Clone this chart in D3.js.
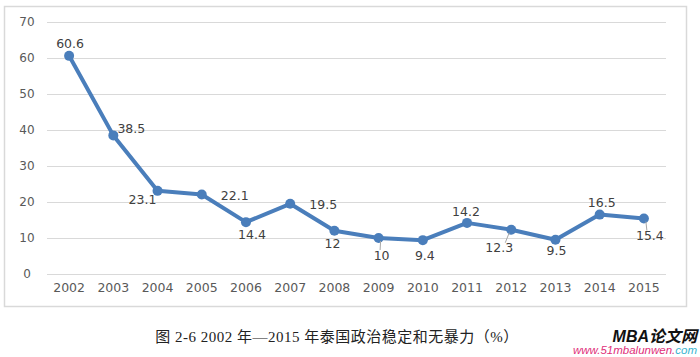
<!DOCTYPE html>
<html><head><meta charset="utf-8">
<script src="https://cdn.jsdelivr.net/npm/d3@7"></script>
<style>body{margin:0;background:#fff;}svg{display:block;}</style>
</head><body>
<svg id="c" width="700" height="357"></svg>
<script>
const years = ["2002","2003","2004","2005","2006","2007","2008","2009","2010","2011","2012","2013","2014","2015"];
const values = [60.6,38.5,23.1,22.1,14.4,19.5,12,10,9.4,14.2,12.3,9.5,16.5,15.4];
const yTicks = [0,10,20,30,40,50,60,70];
const caption = "图 2-6 2002 年—2015 年泰国政治稳定和无暴力（%）";

const svg = d3.select("#c");
svg.append("rect").attr("x",4.5).attr("y",6.5).attr("width",682).attr("height",300)
  .attr("fill","#fff").attr("stroke","#d9d9d9").attr("stroke-width",1.5);

const x = d3.scaleBand().domain(years).range([47,666]);
const y = d3.scaleLinear().domain([0,70]).range([274,22]);

svg.append("g").selectAll("line").data(yTicks).join("line")
  .attr("x1",47).attr("x2",666).attr("y1",d=>Math.round(y(d))+0.5).attr("y2",d=>Math.round(y(d))+0.5)
  .attr("stroke","#d9d9d9").attr("stroke-width",1);

const font = "DejaVu Sans, Verdana, sans-serif";
const yAxis = d3.axisLeft(y).tickValues(yTicks).tickSize(0).tickPadding(0);
const ya = svg.append("g").attr("transform","translate(27,0)").call(yAxis);
ya.select(".domain").remove();
ya.selectAll("text").attr("font-family",font).attr("font-size",12).attr("fill","#595959").attr("text-anchor","middle");

const xAxis = d3.axisBottom(x).tickSize(0).tickPadding(0);
const xa = svg.append("g").attr("transform","translate(0,283)").call(xAxis);
xa.select(".domain").remove();
xa.selectAll("text").attr("font-family",font).attr("font-size",12.5).attr("fill","#595959");

const cx = (d,i)=>x(years[i])+x.bandwidth()/2;
const line = d3.line().x((d,i)=>cx(d,i)).y(d=>y(d));
svg.append("path").datum(values).attr("d",line).attr("fill","none")
  .attr("stroke","#4a7ebb").attr("stroke-width",4).attr("stroke-linejoin","round");

svg.selectAll("circle.m").data(values).join("circle")
  .attr("cx",(d,i)=>cx(d,i)).attr("cy",d=>y(d)).attr("r",5).attr("fill","#4a7ebb");

// label offsets (text center relative to point)
const custom = [[1,-11],[18,-6],[-15,10],[33,2],[6,13],[33,2],[-2,14],[3,18],[2,16],[-1,-10],[-12,19],[1,12],[2,-11],[6,18]];
[7,10,13].forEach(i=>{
  const px = cx(values[i],i), py = y(values[i]);
  const o = custom[i];
  svg.append("line").attr("x1",px+(o[0]>0?1:-1)*2).attr("y1",py+3)
    .attr("x2",px+o[0]*0.5).attr("y2",py+o[1]-6).attr("stroke","#a6a6a6").attr("stroke-width",1);
});
svg.selectAll("text.lbl").data(values).join("text")
  .attr("x",(d,i)=>cx(d,i)+custom[i][0])
  .attr("y",(d,i)=>y(d)+custom[i][1])
  .attr("text-anchor","middle").attr("dominant-baseline","middle")
  .attr("font-family",font).attr("font-size",12.5).attr("fill","#404040")
  .text(d=>d);

svg.append("text").attr("x",337).attr("y",342).attr("text-anchor","middle")
  .attr("font-family","Liberation Serif, Noto Sans CJK SC, serif").attr("font-size",15).attr("letter-spacing",0.5).attr("fill","#222")
  .text(caption);

svg.append("text").attr("x",697).attr("y",342).attr("text-anchor","end")
  .attr("font-family","Liberation Sans, Noto Sans CJK SC, sans-serif").attr("font-size",16).attr("font-weight","bold").attr("font-style","italic").attr("fill","#111")
  .text("MBA论文网");
const w = svg.append("text").attr("x",697).attr("y",354).attr("text-anchor","end")
  .attr("font-family","Liberation Sans, Arial, sans-serif").attr("font-size",11.5).attr("font-style","italic");
w.append("tspan").attr("fill","#e0307a").text("www.51mbalunwen.");
w.append("tspan").attr("fill","#3ab5d0").text("com");
</script>
</body></html>
